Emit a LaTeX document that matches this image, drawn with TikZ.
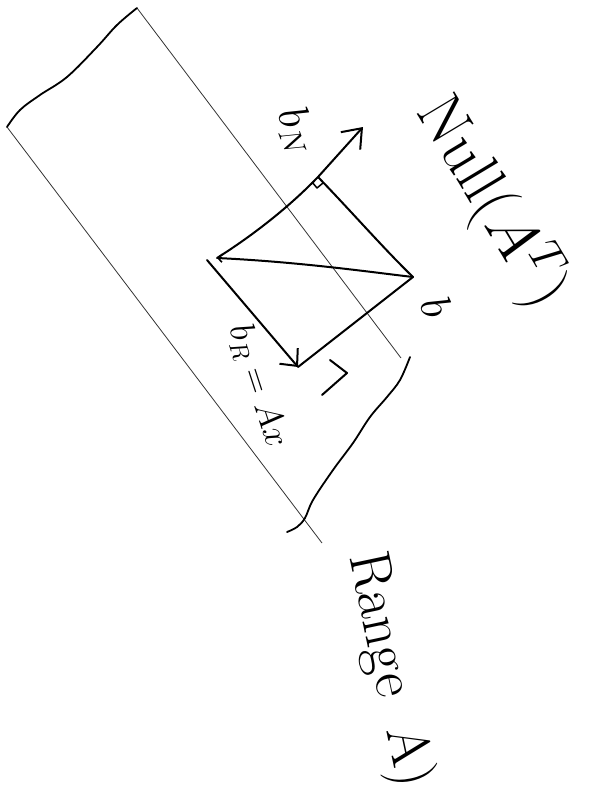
\RequirePackage{fix-cm}
\documentclass[tikz,border=0pt]{standalone}
\usetikzlibrary{arrows.meta}
\begin{document}
\begin{tikzpicture}[x=1pt,y=-1pt,
  thinedge/.style={line width=0.8pt, black!80},
  handedge/.style={line width=1.8pt, line cap=round, line join=round},
  vec/.style={line width=2pt, line cap=round, line join=round},
  bigarrow/.style={-{Straight Barb[length=17pt,width=26pt,line width=2pt]}},
  midarrow/.style={-{Straight Barb[length=13pt,width=24pt,line width=2pt]}},
  smallarrow/.style={-{Straight Barb[length=4pt,width=8pt,line width=1.6pt]}},
  lbl/.style={inner sep=0pt, text=black}]
\useasboundingbox (0,0) rectangle (602,792);

% parallelogram corners (Range(A) plane)
\coordinate (L)  at (7,127);
\coordinate (T)  at (137,8);
\coordinate (BL) at (322,543);
\coordinate (TR) at (401,358);

% vector points
\coordinate (O)    at (217,258);
\coordinate (Os)   at (207,260);
\coordinate (V)    at (413,277);
\coordinate (F)    at (318,177);
\coordinate (tip)  at (363,127);
\coordinate (bR)   at (298,367);

% plane edges
\draw[thinedge] (L) -- (BL);
\draw[thinedge] (T) -- (TR);
\draw[handedge] plot[smooth, tension=0.6] coordinates
  {(7,127) (20,110) (40,95) (67,77) (97,47) (117,25) (137,8)};
\draw[handedge] plot[smooth, tension=0.6] coordinates
  {(410,357) (400,380) (387,397) (370,417) (353,443) (333,470) (313,500) (305,518) (297,527) (287,532)};

% b_N direction through the foot
\draw[vec] (O) .. controls (255,234) and (290,206) .. (F);
\draw[vec, bigarrow] (F) -- (tip);
% right-angle mark at the foot
\draw[line width=1.5pt, line join=round] (312,182) -- (317,188) -- (323,183);
% foot to b
\draw[vec] (F) .. controls (350,210) and (385,250) .. (V);
% b to origin
\draw[vec, smallarrow] (V) .. controls (370,272) and (300,262) .. (O);
% b to b_R and origin to b_R
\draw[vec] (V) -- (bR);
\draw[vec, midarrow] (Os) -- (bR);
% small mark beside b_R
\draw[vec] (330,360) -- (347,373) -- (322,395);

% labels
\node[lbl, rotate=-59, font=\fontsize{64}{70}\selectfont] (null) at (492,202) {Null($A^T$)};
\node[lbl, rotate=-78, font=\fontsize{58}{64}\selectfont] (range) at (388,670) {Range\hspace{0.55em}A)};
\node[lbl, rotate=-70, font=\fontsize{44}{50}\selectfont] (bN) at (297,131) {$b_N$};
\node[lbl, rotate=-70, font=\fontsize{44}{50}\selectfont] (b) at (437,307) {$b$};
\node[lbl, rotate=-72, font=\fontsize{36}{42}\selectfont] (bRl) at (258,386) {$b_R=Ax$};
\end{tikzpicture}
\end{document}
